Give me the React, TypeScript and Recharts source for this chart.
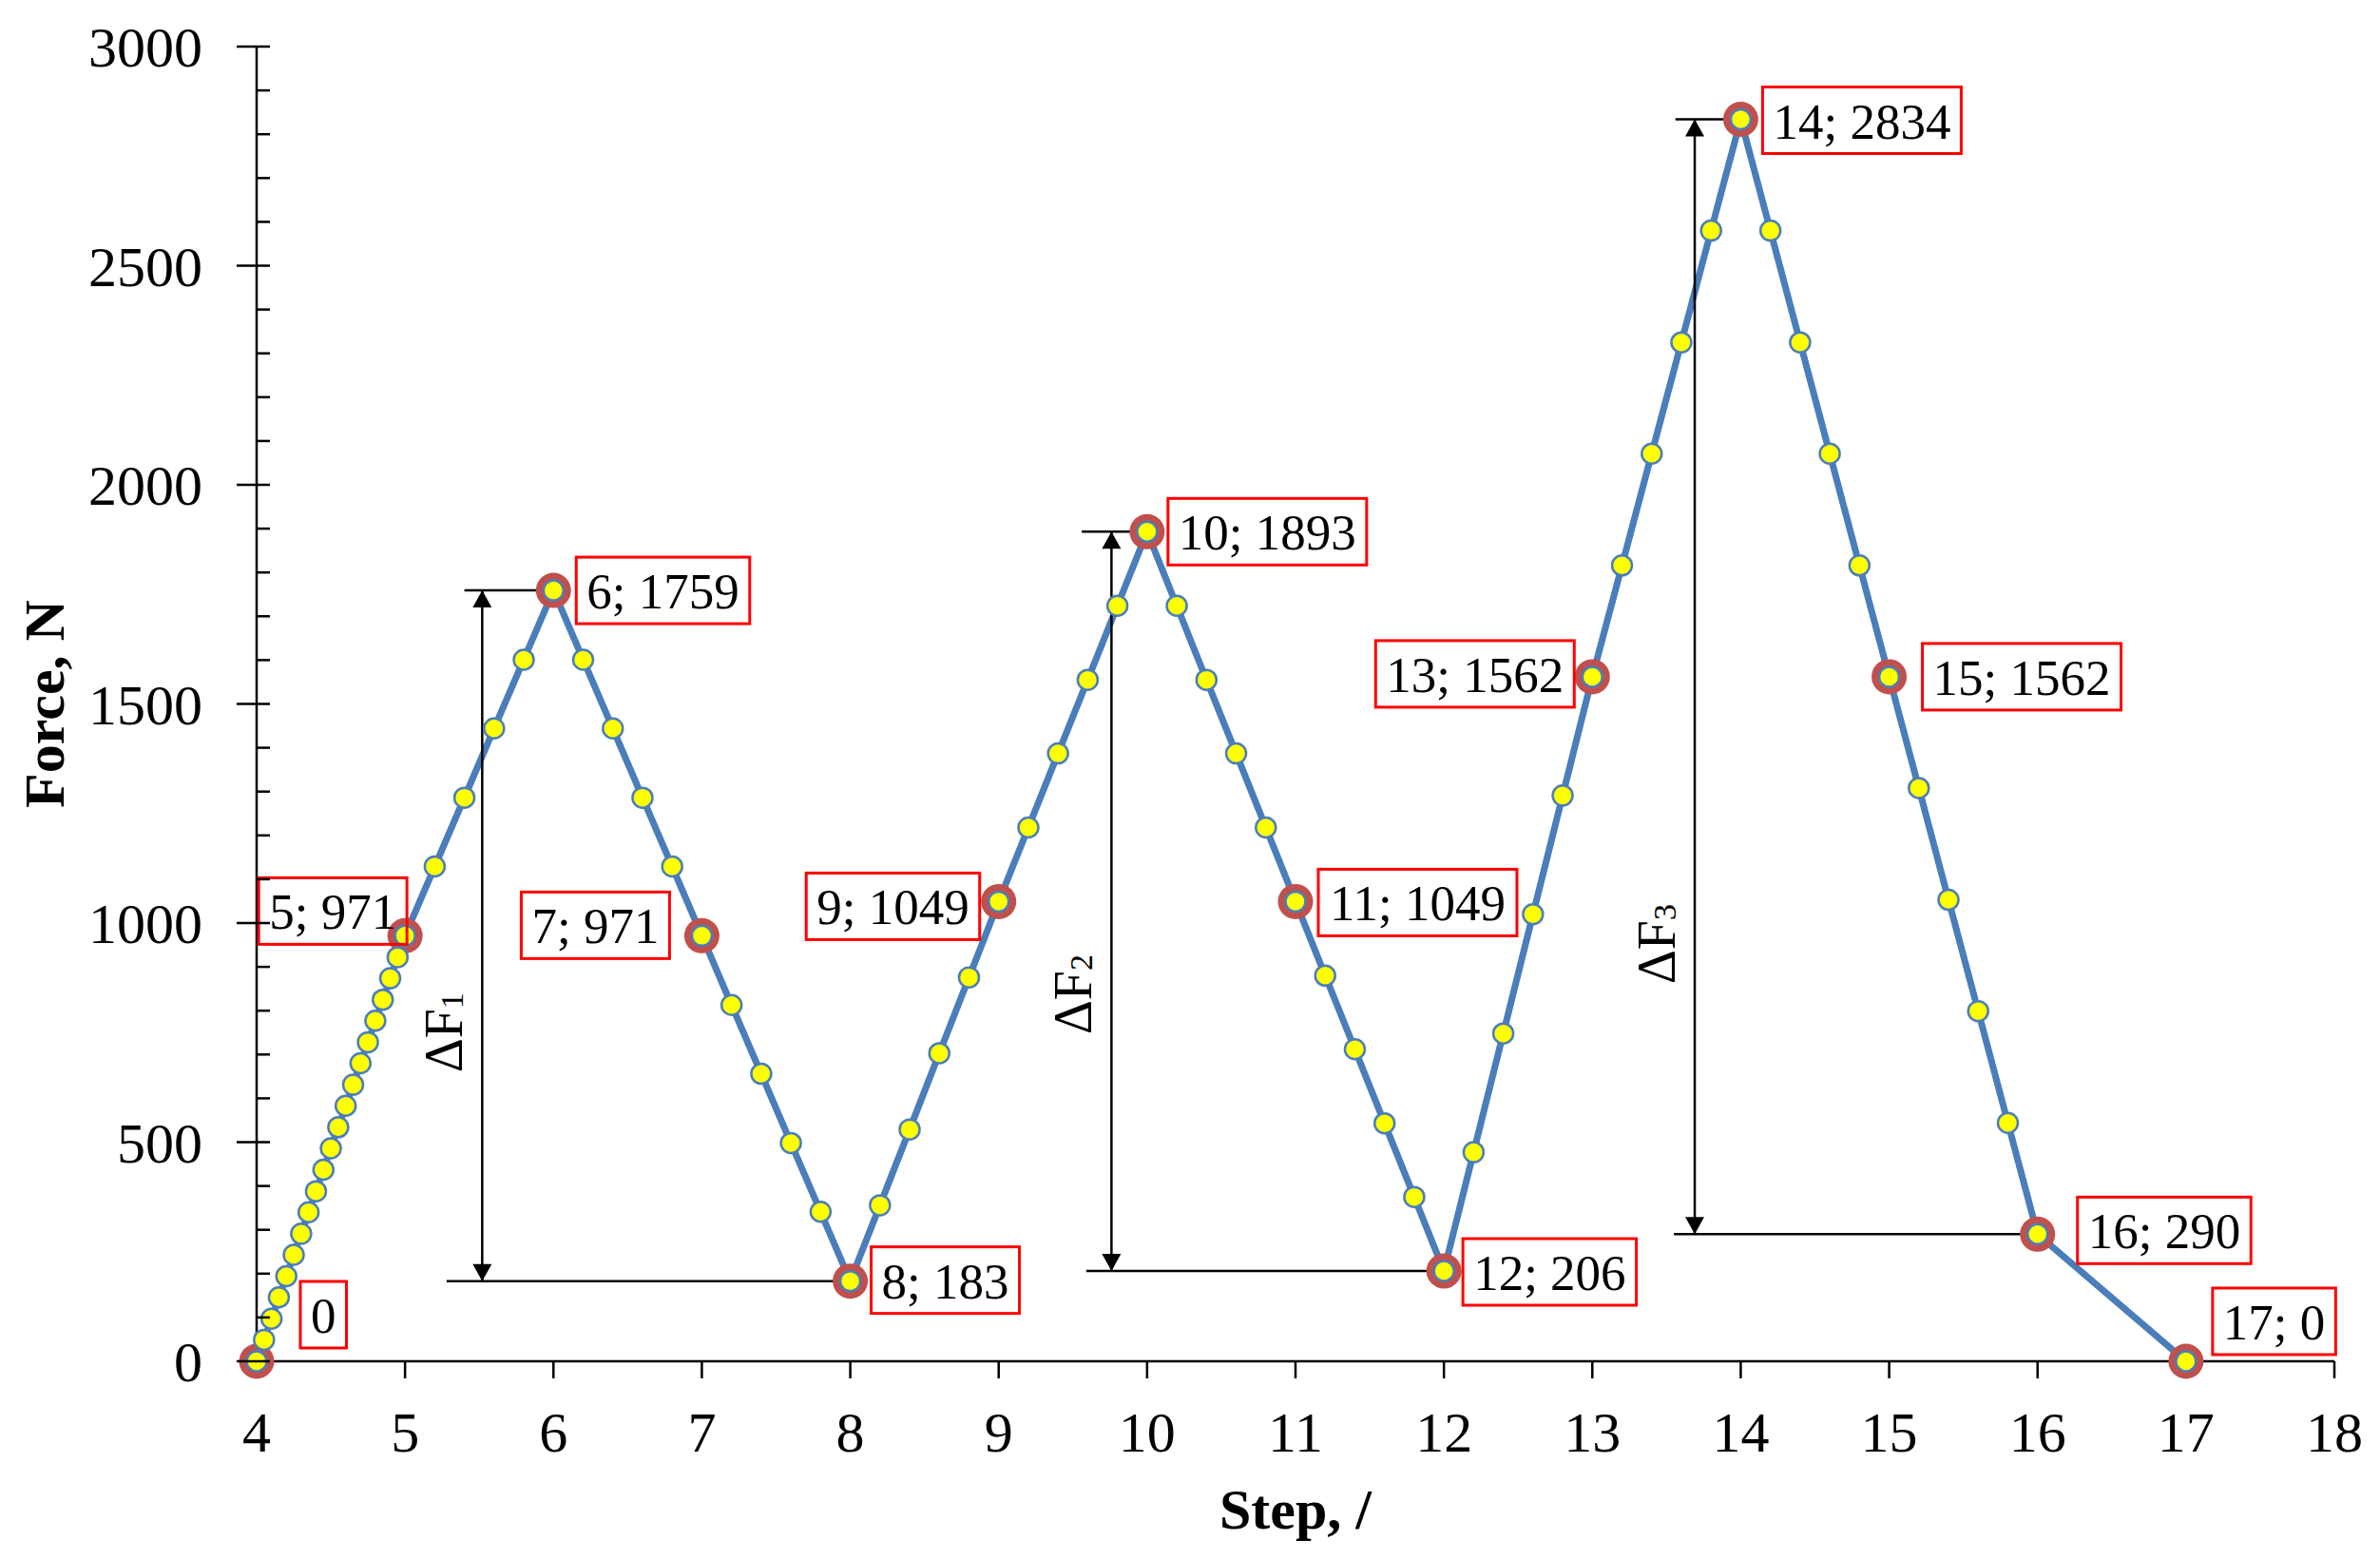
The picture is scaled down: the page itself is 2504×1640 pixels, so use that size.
import React from 'react';
import { LineChart, Line, XAxis, YAxis, ReferenceLine, ReferenceDot } from 'recharts';

const FONT = '"Liberation Serif", "Times New Roman", serif';

// measured points (step, force)
const STEPS = [
  4, 4.05, 4.1, 4.15, 4.2, 4.25, 4.3, 4.35, 4.4, 4.45, 4.5, 4.55, 4.6, 4.65, 4.7, 4.75, 4.8, 4.85, 4.9, 4.95, 5,
  5.2, 5.4, 5.6, 5.8, 6,
  6.2, 6.4, 6.6, 6.8, 7,
  7.2, 7.4, 7.6, 7.8, 8,
  8.2, 8.4, 8.6, 8.8, 9,
  9.2, 9.4, 9.6, 9.8, 10,
  10.2, 10.4, 10.6, 10.8, 11,
  11.2, 11.4, 11.6, 11.8, 12,
  12.2, 12.4, 12.6, 12.8, 13,
  13.2, 13.4, 13.6, 13.8, 14,
  14.2, 14.4, 14.6, 14.8, 15,
  15.2, 15.4, 15.6, 15.8, 16,
  17,
];
const FORCES = [
  0, 49, 97, 146, 194, 243, 291, 340, 388, 437, 486, 534, 583, 631, 680, 728, 777, 825, 874, 922, 971,
  1129, 1286, 1444, 1601, 1759,
  1601, 1444, 1286, 1129, 971,
  813, 656, 498, 341, 183,
  356, 529, 703, 876, 1049,
  1218, 1387, 1555, 1724, 1893,
  1724, 1555, 1387, 1218, 1049,
  880, 712, 543, 375, 206,
  477, 748, 1020, 1291, 1562,
  1816, 2071, 2325, 2580, 2834,
  2580, 2325, 2071, 1816, 1562,
  1308, 1053, 799, 544, 290,
  0,
];

// highlighted points
const KEY_STEPS = [4, 5, 6, 7, 8, 9, 10, 11, 12, 13, 14, 15, 16, 17];
const KEY_FORCES = [0, 971, 1759, 971, 183, 1049, 1893, 1049, 206, 1562, 2834, 1562, 290, 0];
const KEY_LABELS = [
  '0', '5; 971', '6; 1759', '7; 971', '8; 183', '9; 1049', '10; 1893',
  '11; 1049', '12; 206', '13; 1562', '14; 2834', '15; 1562', '16; 290', '17; 0',
];
// where each box sits: R = box to the right (dx = left edge), L = box to the left (dx = right edge)
const LABEL_SIDE = ['R', 'L', 'R', 'L', 'R', 'L', 'R', 'R', 'R', 'L', 'R', 'R', 'R', 'R'];
const LABEL_DX = [46, 2, 24, -34, 22, -20, 22, 24, 20, -19, 23, 35, 42, 28];
const LABEL_DY = [-84, -61, -35, -46, -36, -30, -35, -34, -34, -38, -34, -35, -39, -77];

const X_TICKS = [4, 5, 6, 7, 8, 9, 10, 11, 12, 13, 14, 15, 16, 17, 18];
const Y_TICKS = [
  0, 100, 200, 300, 400, 500, 600, 700, 800, 900, 1000, 1100, 1200, 1300, 1400, 1500,
  1600, 1700, 1800, 1900, 2000, 2100, 2200, 2300, 2400, 2500, 2600, 2700, 2800, 2900, 3000,
];

// ΔF dimension arrows
const DELTA_NAMES = ['1', '2', '3'];
const DELTA_STEP = [5.52, 9.76, 13.69];
const DELTA_LOW = [183, 206, 290];
const DELTA_HIGH = [1759, 1893, 2834];
const DELTA_LOW_FROM = [5.28, 9.59, 13.55];
const DELTA_LOW_TO = [8, 12, 16];
const DELTA_HIGH_FROM = [5.4, 9.56, 13.56];
const DELTA_HIGH_TO = [6, 10, 14];
const DELTA_LABEL_Y = [750, 837, 952];

const data = STEPS.map((step, i) => {
  const k = KEY_STEPS.indexOf(step);
  return { step, force: FORCES[i], key: k >= 0 ? KEY_FORCES[k] : null };
});

const textWidth = (s: string, size: number) =>
  s.split('').reduce((w, c) => w + (c === ';' ? 0.278 : c === ' ' ? 0.25 : 0.5) * size, 0);

const YTick = (props: any) => {
  const { x, y, payload } = props;
  const major = payload.value % 500 === 0;
  return (
    <g>
      <line x1={major ? x - 21 : x} x2={x + 14} y1={y} y2={y} stroke="#000" strokeWidth={2.5} />
      {major && (
        <text x={x - 57} y={y + 21} textAnchor="end" fontSize={60} fontFamily={FONT} fill="#000">
          {payload.value}
        </text>
      )}
    </g>
  );
};

const renderKeyDot = (p: any) => {
  if (p.payload == null || p.payload.key == null || p.cy == null) return <g key={`k${p.index}`} />;
  return <circle key={`k${p.index}`} cx={p.cx} cy={p.cy} r={18.5} fill="#C0504D" />;
};

const renderDot = (p: any) => (
  <circle key={`d${p.index}`} cx={p.cx} cy={p.cy} r={10.5} fill="#FFFF00" stroke="#4A7EBB" strokeWidth={2.5} />
);

const boxShape = (i: number) => (p: any) => {
  const label = KEY_LABELS[i];
  const w = textWidth(label, 53) + 22;
  const left = LABEL_SIDE[i] === 'R' ? p.cx + LABEL_DX[i] : p.cx + LABEL_DX[i] - w;
  const top = p.cy + LABEL_DY[i];
  return (
    <g>
      <rect x={left} y={top} width={w} height={70} fill="none" stroke="#FF0000" strokeWidth={3} />
      <text x={left + w / 2} y={top + 54} textAnchor="middle" fontSize={53} fontFamily={FONT} fill="#000">
        {label}
      </text>
    </g>
  );
};

const arrowUp = (p: any) => (
  <path d={`M${p.cx},${p.cy} L${p.cx - 10},${p.cy + 18} L${p.cx + 10},${p.cy + 18} Z`} fill="#000" />
);
const arrowDown = (p: any) => (
  <path d={`M${p.cx},${p.cy} L${p.cx - 10},${p.cy - 18} L${p.cx + 10},${p.cy - 18} Z`} fill="#000" />
);
const deltaText = (n: string) => (p: any) => {
  const tx = p.cx - 40;
  return (
    <text
      x={tx}
      y={p.cy}
      transform={`rotate(-90 ${tx} ${p.cy})`}
      textAnchor="middle"
      dominantBaseline="central"
      fontSize={56}
      fontFamily={FONT}
      fill="#000"
    >
      ΔF
      <tspan fontSize={34} dy={8}>{n}</tspan>
    </text>
  );
};

export default function App() {
  return (
    <div style={{ position: 'absolute', left: 0, top: 0, background: '#fff' }}>
      <LineChart width={2504} height={1640} data={data} margin={{ top: 49, right: 48, bottom: 0, left: 0 }}>
        <XAxis
          type="number"
          dataKey="step"
          domain={[4, 18]}
          ticks={X_TICKS}
          interval={0}
          height={208}
          axisLine={{ stroke: '#000', strokeWidth: 2.5 }}
          tickLine={{ stroke: '#000', strokeWidth: 2.5 }}
          tickSize={18}
          tickMargin={34}
          tick={{ fill: '#000', fontSize: 60, fontFamily: FONT }}
          label={{
            value: 'Step, /',
            position: 'insideBottom',
            offset: 32,
            fill: '#000',
            fontSize: 60,
            fontWeight: 'bold',
            fontFamily: FONT,
          }}
        />
        <YAxis
          type="number"
          domain={[0, 3000]}
          ticks={Y_TICKS}
          interval={0}
          width={270}
          axisLine={{ stroke: '#000', strokeWidth: 2.5 }}
          tickLine={false}
          tickSize={0}
          tickMargin={0}
          tick={(props: any) => <YTick {...props} />}
          label={{
            value: 'Force, N',
            angle: -90,
            position: 'insideLeft',
            offset: 46,
            fill: '#000',
            fontSize: 60,
            fontWeight: 'bold',
            fontFamily: FONT,
            style: { textAnchor: 'middle' },
          }}
        />
        <Line
          dataKey="key"
          connectNulls
          stroke="#C0504D"
          strokeWidth={6}
          dot={renderKeyDot}
          activeDot={false}
          isAnimationActive={false}
        />
        <Line
          dataKey="force"
          stroke="#4A7EBB"
          strokeWidth={7}
          dot={renderDot}
          activeDot={false}
          isAnimationActive={false}
        />
        {DELTA_NAMES.map((n, i) => (
          <ReferenceLine
            key={`v${n}`}
            segment={[{ x: DELTA_STEP[i], y: DELTA_LOW[i] }, { x: DELTA_STEP[i], y: DELTA_HIGH[i] }]}
            stroke="#000"
            strokeWidth={2.5}
          />
        ))}
        {DELTA_NAMES.map((n, i) => (
          <ReferenceLine
            key={`h${n}`}
            segment={[{ x: DELTA_HIGH_FROM[i], y: DELTA_HIGH[i] }, { x: DELTA_HIGH_TO[i], y: DELTA_HIGH[i] }]}
            stroke="#000"
            strokeWidth={2.5}
          />
        ))}
        {DELTA_NAMES.map((n, i) => (
          <ReferenceLine
            key={`l${n}`}
            segment={[{ x: DELTA_LOW_FROM[i], y: DELTA_LOW[i] }, { x: DELTA_LOW_TO[i], y: DELTA_LOW[i] }]}
            stroke="#000"
            strokeWidth={2.5}
          />
        ))}
        {DELTA_NAMES.map((n, i) => (
          <ReferenceDot key={`au${n}`} x={DELTA_STEP[i]} y={DELTA_HIGH[i]} shape={arrowUp} />
        ))}
        {DELTA_NAMES.map((n, i) => (
          <ReferenceDot key={`ad${n}`} x={DELTA_STEP[i]} y={DELTA_LOW[i]} shape={arrowDown} />
        ))}
        {DELTA_NAMES.map((n, i) => (
          <ReferenceDot key={`t${n}`} x={DELTA_STEP[i]} y={DELTA_LABEL_Y[i]} shape={deltaText(n)} />
        ))}
        {KEY_STEPS.map((s, i) => (
          <ReferenceDot key={`b${s}`} x={s} y={KEY_FORCES[i]} shape={boxShape(i)} />
        ))}
      </LineChart>
    </div>
  );
}
